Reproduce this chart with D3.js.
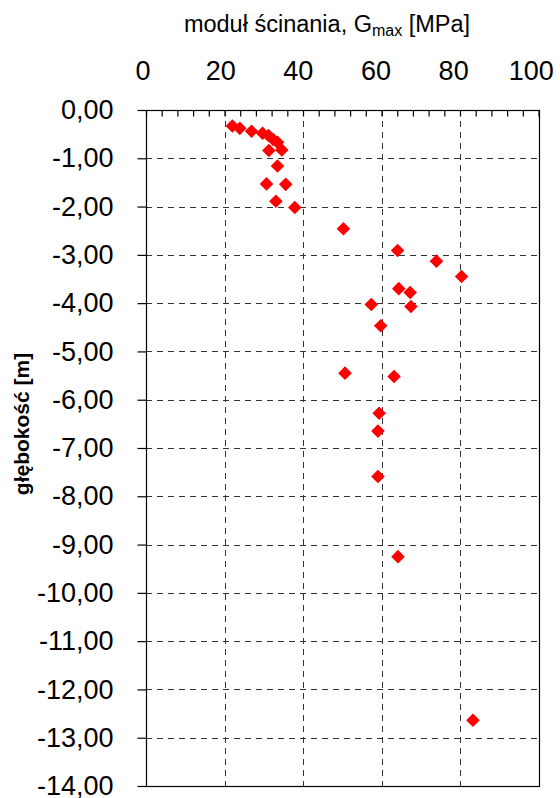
<!DOCTYPE html>
<html>
<head>
<meta charset="utf-8">
<script src="https://cdn.jsdelivr.net/npm/d3@7"></script>
<style>
  body { margin: 0; background: #fff; }
  svg text { font-family: Arial, "Liberation Sans", sans-serif; fill: #000; }
</style>
</head>
<body>
<div id="wykres"></div>
<script>
// Dane: moduł ścinania Gmax [MPa] vs głębokość [m]
const gmax = [22.0, 23.9, 26.9, 29.7, 31.2, 32.4, 33.5, 34.6, 31.3, 33.5, 30.7, 35.6, 33.1, 37.9,
  50.3, 64.1, 74.0, 80.4, 64.4, 67.3, 67.5, 57.4, 59.8, 50.7, 63.2, 59.4, 59.1, 59.1, 64.2, 83.3];
const glebokosc = [-0.33, -0.38, -0.44, -0.48, -0.53, -0.61, -0.67, -0.83, -0.84, -1.16, -1.53, -1.54, -1.89, -2.02,
  -2.46, -2.91, -3.13, -3.45, -3.70, -3.78, -4.07, -4.03, -4.47, -5.45, -5.52, -6.28, -6.65, -7.59, -9.25, -12.64];
const xTicks = [0, 20, 40, 60, 80, 100];
const yTicks = d3.range(0, -15, -1);

const width = 560;
const height = 798;

const svg = d3.select('#wykres').append('svg')
  .attr('width', width)
  .attr('height', height);

// Skale
const x = d3.scaleLinear().domain([0, 100]).range([146, 538.5]);
const y = d3.scaleLinear().domain([-14, 0]).range([786, 110]);
// etykiety osi X w Excelu są lekko przesunięte w lewo
const xLab = d3.scaleLinear().domain([0, 100]).range([142.5, 530.8]);

const gridColor = '#333';

// Siatka pozioma
svg.append('g')
  .selectAll('line')
  .data(yTicks.filter((d) => d !== 0 && d !== -14))
  .join('line')
  .attr('x1', x(0)).attr('x2', x(100))
  .attr('y1', (d) => Math.round(y(d)) + 0.5)
  .attr('y2', (d) => Math.round(y(d)) + 0.5)
  .attr('stroke', gridColor)
  .attr('stroke-dasharray', '6,5');

// Siatka pionowa
svg.append('g')
  .selectAll('line')
  .data([20, 40, 60, 80])
  .join('line')
  .attr('x1', (d) => Math.round(x(d)) + 0.5)
  .attr('x2', (d) => Math.round(x(d)) + 0.5)
  .attr('y1', y(0)).attr('y2', y(-14))
  .attr('stroke', gridColor)
  .attr('stroke-dasharray', '6,5');

// Ramka
svg.append('rect')
  .attr('x', Math.round(x(0)) + 0.5)
  .attr('y', Math.round(y(0)) + 0.5)
  .attr('width', Math.round(x(100)) - Math.round(x(0)))
  .attr('height', Math.round(y(-14)) - Math.round(y(0)))
  .attr('fill', 'none')
  .attr('stroke', '#000')
  .attr('stroke-width', 1.2);

// Oś górna - drobne znaczniki do wewnątrz
svg.append('g')
  .attr('transform', `translate(0,${Math.round(y(0)) + 0.5})`)
  .call(d3.axisBottom(x).tickValues(d3.range(0, 101, 4)).tickSize(6).tickFormat(''))
  .call((g) => g.select('.domain').remove())
  .call((g) => g.selectAll('.tick line').attr('stroke', '#000').attr('stroke-width', 1.2));

// Etykiety osi X (góra)
svg.append('g')
  .attr('transform', 'translate(0,80)')
  .call(d3.axisTop(xLab).tickValues(xTicks).tickSize(0).tickPadding(0))
  .call((g) => g.select('.domain').remove())
  .call((g) => g.selectAll('text').style('font-size', '27px'));

// Oś lewa
svg.append('g')
  .attr('transform', `translate(${Math.round(x(0)) + 0.5},0)`)
  .call(d3.axisLeft(y).tickValues(yTicks).tickSize(9).tickPadding(24)
    .tickFormat((d) => d3.format('.2f')(d).replace('.', ',').replace('−', '-')))
  .call((g) => g.select('.domain').remove())
  .call((g) => g.selectAll('.tick line').attr('stroke', '#000').attr('stroke-width', 1.2))
  .call((g) => g.selectAll('text').style('font-size', '27px'));

// Punkty
svg.append('g')
  .selectAll('path')
  .data(gmax.map((g, i) => ({ g, h: glebokosc[i] })))
  .join('path')
  .attr('d', d3.symbol(d3.symbolSquare, 92))
  .attr('transform', (d) => `translate(${x(d.g)},${y(d.h)}) rotate(45)`)
  .attr('fill', '#ff0000');

// Tytuł osi X
const tytul = svg.append('text')
  .attr('x', 327)
  .attr('y', 32)
  .attr('text-anchor', 'middle')
  .style('font-size', '23.5px');
tytul.append('tspan').text('moduł ścinania, G');
tytul.append('tspan').attr('dy', 4).style('font-size', '16px').text('max');
tytul.append('tspan').attr('dy', -4).text(' [MPa]');

// Tytuł osi Y
svg.append('text')
  .attr('transform', 'translate(29,424) rotate(-90)')
  .attr('text-anchor', 'middle')
  .style('font-size', '21px')
  .style('font-weight', 'bold')
  .text('głębokość [m]');
</script>
</body>
</html>
